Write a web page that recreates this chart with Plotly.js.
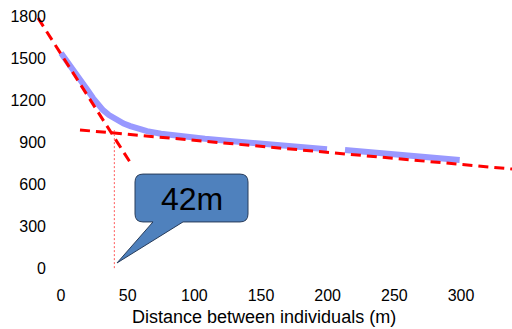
<!DOCTYPE html>
<html>
<head>
<meta charset="utf-8">
<script src="https://cdn.plot.ly/plotly-3.0.1.min.js"></script>
<style>html,body{margin:0;padding:0;background:#fff;}#chart{width:512px;height:329px;}</style>
</head>
<body>
<div id="chart"></div>
<script>
const distX = [0, 5, 9, 13, 16.5, 20, 24, 28, 31.5, 36, 42, 47, 52, 58, 64.5, 75, 91.5, 108, 124.5, 140, 157, 179, 199.5, null, 213, 230, 247, 269, 285, 299];
const distY = [1535, 1472, 1414, 1367, 1321, 1269, 1214, 1167, 1128, 1092, 1057, 1032, 1014, 992, 978, 959, 938, 923, 909, 897, 886, 867, 848, null, 843, 829, 814, 795, 783, 771];

// Fitted trend lines (dashed red)
const steepX = [-17.25, 52.5];
const steepY = [1786, 745];
const flatX = [14.25, 338.25];
const flatY = [986, 707];

// Breakpoint marker
const breakX = [40, 40];
const breakY = [985, -5];
const breakLabel = "42m";

const xTicks = [0, 50, 100, 150, 200, 250, 300];
const yTicks = [0, 300, 600, 900, 1200, 1500, 1800];
const xTitle = "Distance between individuals (m)";

const FONT = "Liberation Sans, Arial, sans-serif";

const traces = [
  {x: distX, y: distY, mode: "lines", connectgaps: false,
   line: {color: "rgb(153,153,255)", width: 6}, hoverinfo: "skip"},
  {x: steepX, y: steepY, mode: "lines",
   line: {color: "rgb(255,0,0)", width: 3, dash: "10px,6px"}},
  {x: flatX, y: flatY, mode: "lines",
   line: {color: "rgb(255,0,0)", width: 3, dash: "10px,6px"}},
  {x: breakX, y: breakY, mode: "lines",
   line: {color: "rgb(255,90,90)", width: 1, dash: "2px,2px"}}
];

// Callout bubble (data coords)
const bx0 = 55.5, bx1 = 140.25, by0 = 329, by1 = 671;
const rx = 6, ry = 57;
const tipX = 42, tipY = 36, tailL = 69, tailR = 91.5;
const bubblePath =
  `M ${bx0+rx},${by1} L ${bx1-rx},${by1} Q ${bx1},${by1} ${bx1},${by1-ry} ` +
  `L ${bx1},${by0+ry} Q ${bx1},${by0} ${bx1-rx},${by0} ` +
  `L ${tailR},${by0} L ${tipX},${tipY} L ${tailL},${by0} ` +
  `L ${bx0+rx},${by0} Q ${bx0},${by0} ${bx0},${by0+ry} ` +
  `L ${bx0},${by1-ry} Q ${bx0},${by1} ${bx0+rx},${by1} Z`;

const layout = {
  width: 512, height: 329,
  margin: {l: 37, r: 0, t: 10, b: 54, pad: 0},
  paper_bgcolor: "#fff", plot_bgcolor: "#fff",
  showlegend: false,
  font: {family: FONT, size: 16, color: "#000"},
  xaxis: {range: [-18, 338.25], tickvals: xTicks, ticktext: xTicks.map(String),
          showgrid: false, zeroline: false, showline: false,
          ticks: "outside", ticklen: 6, tickcolor: "rgba(0,0,0,0)",
          tickfont: {family: FONT, size: 16, color: "#000"}},
  yaxis: {range: [-50, 1843], tickvals: yTicks, ticktext: yTicks.map(String),
          showgrid: false, zeroline: false, showline: false,
          ticks: "", ticklabelstandoff: -10,
          tickfont: {family: FONT, size: 16, color: "#000"}},
  shapes: [{type: "path", xref: "x", yref: "y", path: bubblePath,
            fillcolor: "rgb(79,129,189)", line: {color: "rgb(40,60,90)", width: 1}}],
  annotations: [
    {x: 97.9, y: 493, xref: "x", yref: "y", text: breakLabel, showarrow: false,
     font: {family: FONT, size: 32, color: "#000"}, xanchor: "center", yanchor: "middle"},
    {x: (264 - 37) / 475, y: -0.16, xref: "paper", yref: "paper", text: xTitle,
     showarrow: false, font: {family: FONT, size: 18, color: "#000"},
     xanchor: "center", yanchor: "middle"}
  ]
};

Plotly.newPlot("chart", traces, layout, {staticPlot: true, displayModeBar: false});
</script>
</body>
</html>
